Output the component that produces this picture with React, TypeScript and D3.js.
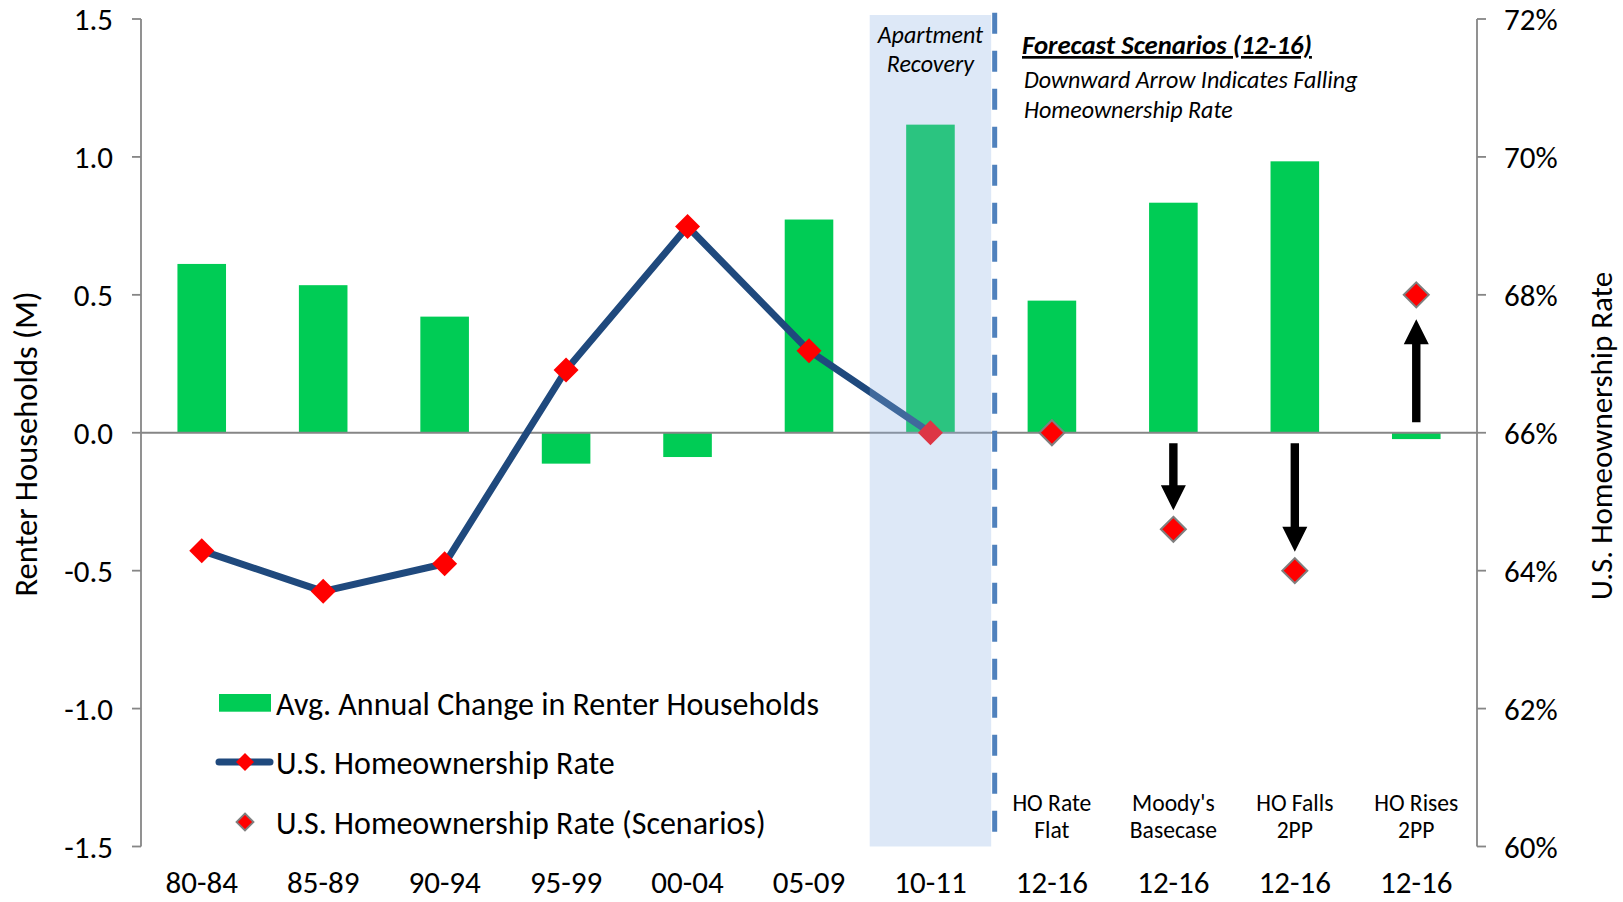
import React from "react";
import * as d3 from "d3";

const categories = ["80-84", "85-89", "90-94", "95-99", "00-04", "05-09", "10-11", "12-16", "12-16", "12-16", "12-16"];
const renterChange = [0.612, 0.535, 0.421, -0.112, -0.088, 0.773, 1.117, 0.479, 0.834, 0.984, -0.023];
const homeownershipRate = [64.29, 63.7, 64.1, 66.91, 68.99, 67.19, 66.0];
const scenarioIndex = [7, 8, 9, 10];
const scenarioRate = [66.0, 64.6, 64.0, 68.0];
const scenarioLabels = [["HO Rate", "Flat"], ["Moody's", "Basecase"], ["HO Falls", "2PP"], ["HO Rises", "2PP"]];
const leftTicks = [-1.5, -1.0, -0.5, 0.0, 0.5, 1.0, 1.5];
const rightTicks = [60, 62, 64, 66, 68, 70, 72];
const legendItems = ["Avg. Annual Change in Renter Households", "U.S. Homeownership Rate", "U.S. Homeownership Rate (Scenarios)"];
const recoveryIndex = 6;

const W = 1623;
const H = 902;
const FONT = "Carlito, Calibri, Lato, sans-serif";
const GREEN = "#00cc55";
const NAVY = "#1f497d";
const RED = "#ff0000";
const GREY = "#868686";

const diamond = (r: number) => `M0,${-r}L${r},0L0,${r}L${-r},0Z`;

function arrowPath(x: number, y0: number, y1: number) {
  const dir = y1 > y0 ? 1 : -1;
  const sw = 4.2, hw = 12.5, hl = 25;
  const yb = y1 - dir * hl;
  return `M${x - sw},${y0}L${x + sw},${y0}L${x + sw},${yb}L${x + hw},${yb}L${x},${y1}L${x - hw},${yb}L${x - sw},${yb}Z`;
}

export default function App() {
  const x0 = 141, x1 = 1477, yTop = 19, yBot = 846.5;
  const x = d3.scaleBand<number>().domain(d3.range(categories.length)).range([x0, x1]).padding(0);
  const step = x.step();
  const cx = (i: number) => (x(i) as number) + step / 2;
  const barW = step * 0.4;
  const yL = d3.scaleLinear().domain([-1.5, 1.5]).range([yBot, yTop]);
  const yR = d3.scaleLinear().domain([60, 72]).range([yBot, yTop]);
  const line = d3.line<number>().x((_, i) => cx(i)).y((d) => yR(d));
  const fmtL = d3.format(".1f");

  return (
    <svg width={W} height={H} style={{ position: "absolute", left: 0, top: 0, background: "#fff" }} fontFamily={FONT}>
      {/* bars */}
      {renterChange.map((v, i) => (
        <rect key={"b" + i} x={cx(i) - barW / 2} width={barW} y={Math.min(yL(v), yL(0))} height={Math.abs(yL(v) - yL(0))} fill={GREEN} />
      ))}
      {/* zero / category axis line */}
      <line x1={x0} x2={x1} y1={yL(0)} y2={yL(0)} stroke={GREY} strokeWidth={1.8} />
      {/* homeownership line */}
      <path d={line(homeownershipRate) as string} fill="none" stroke={NAVY} strokeWidth={7} strokeLinejoin="round" />
      {homeownershipRate.map((v, i) => (
        <path key={"m" + i} d={diamond(12.5)} transform={`translate(${cx(i)},${yR(v)})`} fill={RED} />
      ))}
      {/* scenarios */}
      {scenarioRate.map((v, k) => (
        <path key={"s" + k} d={diamond(12.5)} transform={`translate(${cx(scenarioIndex[k])},${yR(v)})`} fill={RED} stroke="#7f7f7f" strokeWidth={2} />
      ))}
      {scenarioRate.map((v, k) => {
        if (v === 66) return null;
        const xc = cx(scenarioIndex[k]);
        const dir = v < 66 ? 1 : -1;
        const start = yR(66) + dir * 10.5;
        const end = yR(v) - dir * (dir > 0 ? 19 : 24.5);
        return <path key={"a" + k} d={arrowPath(xc, start, end)} fill="#000" />;
      })}
      {/* apartment recovery band overlay */}
      <rect x={x(recoveryIndex) as number} width={step} y={15} height={yBot - 15} fill="#8eb4e3" fillOpacity={0.3} />
      <text x={cx(recoveryIndex)} y={43} textAnchor="middle" fontSize={24} fontStyle="italic">Apartment</text>
      <text x={cx(recoveryIndex)} y={72} textAnchor="middle" fontSize={24} fontStyle="italic">Recovery</text>
      {/* dashed divider */}
      <line x1={(x(recoveryIndex) as number) + step + 3.5} x2={(x(recoveryIndex) as number) + step + 3.5} y1={12.7} y2={yBot} stroke="#4f81bd" strokeWidth={5} strokeDasharray="21 17" />
      {/* forecast annotation */}
      <text x={1022} y={54} fontSize={26.8} fontWeight="bold" fontStyle="italic" textDecoration="underline">Forecast Scenarios (12-16)</text>
      <text x={1024} y={88} fontSize={24} fontStyle="italic">Downward Arrow Indicates Falling</text>
      <text x={1024} y={118} fontSize={24} fontStyle="italic">Homeownership Rate</text>
      {/* left axis */}
      <line x1={x0} x2={x0} y1={yTop} y2={yBot} stroke={GREY} strokeWidth={1.8} />
      {leftTicks.map((t) => (
        <g key={"lt" + t}>
          <line x1={x0 - 9} x2={x0} y1={yL(t)} y2={yL(t)} stroke={GREY} strokeWidth={1.8} />
          <text x={113} y={yL(t)} dy="0.36em" textAnchor="end" fontSize={31}>{fmtL(t).replace("\u2212", "-")}</text>
        </g>
      ))}
      {/* right axis */}
      <line x1={x1} x2={x1} y1={yTop} y2={yBot} stroke={GREY} strokeWidth={1.8} />
      {rightTicks.map((t) => (
        <g key={"rt" + t}>
          <line x1={x1} x2={x1 + 9} y1={yR(t)} y2={yR(t)} stroke={GREY} strokeWidth={1.8} />
          <text x={1504} y={yR(t)} dy="0.36em" textAnchor="start" fontSize={31}>{t + "%"}</text>
        </g>
      ))}
      {/* category labels */}
      {categories.map((c, i) => (
        <text key={"c" + i} x={cx(i)} y={893} textAnchor="middle" fontSize={31}>{c}</text>
      ))}
      {scenarioLabels.map((lbl, k) => (
        <g key={"sl" + k}>
          <text x={cx(scenarioIndex[k])} y={811} textAnchor="middle" fontSize={23.6}>{lbl[0]}</text>
          <text x={cx(scenarioIndex[k])} y={838} textAnchor="middle" fontSize={23.6}>{lbl[1]}</text>
        </g>
      ))}
      {/* axis titles */}
      <text transform={`translate(37,444) rotate(-90)`} textAnchor="middle" fontSize={32.5}>Renter Households (M)</text>
      <text transform={`translate(1612,436) rotate(-90)`} textAnchor="middle" fontSize={31}>U.S. Homeownership Rate</text>
      {/* legend */}
      <rect x={219} y={694} width={52} height={17.7} fill={GREEN} />
      <line x1={219} x2={270} y1={762} y2={762} stroke={NAVY} strokeWidth={7} strokeLinecap="round" />
      <path d={diamond(9)} transform="translate(245,762)" fill={RED} />
      <path d={diamond(8.5)} transform="translate(245,822)" fill={RED} stroke="#7f7f7f" strokeWidth={1.8} />
      {legendItems.map((t, i) => (
        <text key={"lg" + i} x={276} y={[703, 762, 822][i]} dy="0.36em" fontSize={32}>{t}</text>
      ))}
    </svg>
  );
}
